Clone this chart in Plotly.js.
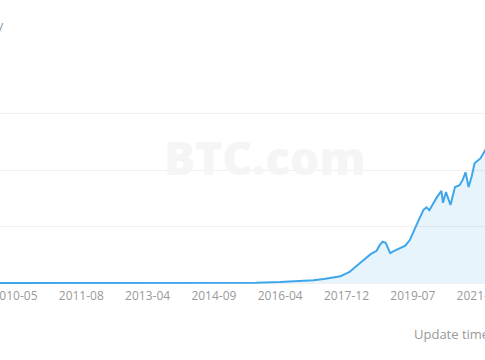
<!DOCTYPE html>
<html>
<head>
<meta charset="utf-8">
<script src="https://cdn.plot.ly/plotly-3.0.1.min.js"></script>
<style>html,body{margin:0;padding:0;background:#fff;}#chart{width:485px;height:360px;}</style>
</head>
<body>
<div id="chart"></div>
<script>
// Difficulty adjustment index (x) and network difficulty in T (y)
const adjIndex = [20, 60, 100, 130, 150, 162, 175, 190, 206, 218, 228, 235, 241, 246, 250, 252, 256, 259, 262, 266, 268, 270, 272, 274, 276, 278, 279, 281, 286, 289, 292, 294, 297, 301, 303, 305, 308, 310, 313, 314, 316, 319, 322, 325, 327, 329, 331, 333, 335, 337, 339, 342, 345];
const difficultyT = [0, 0.000001, 0.000003, 0.00005, 0.002, 0.027, 0.045, 0.06, 0.17, 0.3, 0.5, 0.7, 0.95, 1.2, 1.7, 1.95, 2.9, 3.5, 4.2, 5.1, 5.4, 5.7, 6.7, 7.3, 7.1, 6.0, 5.3, 5.6, 6.2, 6.6, 7.6, 8.9, 10.6, 12.9, 13.4, 12.9, 14.3, 15.2, 16.3, 14.2, 16.1, 13.8, 17.0, 17.3, 18.2, 19.6, 17.0, 18.8, 21.2, 21.6, 22.1, 23.5, 25.0];
const tickIndex = [30, 74, 118, 162, 206, 250, 294, 338];
const tickLabels = ['2010-05', '2011-08', '2013-04', '2014-09', '2016-04', '2017-12', '2019-07', '2021-06'];
const gridValues = [0, 10, 20, 30, 40];

const trace = {
  x: adjIndex, y: difficultyT, type: 'scatter', mode: 'lines',
  line: {color: '#3ea6ea', width: 2, shape: 'linear'},
  fill: 'tozeroy', fillcolor: 'rgba(62,166,234,0.12)',
  hoverinfo: 'skip'
};

const layout = {
  width: 485, height: 360,
  margin: {l: 0, r: 0, t: 57, b: 75, pad: 0},
  paper_bgcolor: '#ffffff', plot_bgcolor: '#ffffff',
  showlegend: false,
  font: {family: '"Open Sans", sans-serif', color: '#999999', size: 12},
  xaxis: {
    range: [20.05, 341.9], tickmode: 'array', tickvals: tickIndex, ticktext: tickLabels,
    showgrid: false, zeroline: false, showline: false, ticks: '', automargin: false,
    ticklabeloverflow: 'allow', ticklabelstandoff: 2,
    tickfont: {size: 12, color: '#999999'}
  },
  yaxis: {
    range: [-0.35, 40], tickmode: 'array', tickvals: gridValues, showticklabels: false,
    showgrid: true, gridcolor: '#f0f0f0', gridwidth: 1, zeroline: false, showline: false,
    ticks: '', automargin: false
  },
  annotations: [
    {text: 'BTC.com', xref: 'paper', yref: 'paper', x: 264/485, y: 0.561, xanchor: 'center', yanchor: 'middle',
     showarrow: false, font: {family: '"Open Sans", sans-serif', size: 46, color: '#f5f5f5', weight: 800}},
    {text: 'Difficulty', xref: 'paper', yref: 'paper', x: 6/485, y: 1.14, xanchor: 'right', yanchor: 'middle',
     showarrow: false, font: {size: 13, color: '#999999'}},
    {text: 'Update time', xref: 'paper', yref: 'paper', x: 412/485, y: -0.215, xanchor: 'left', yanchor: 'middle',
     showarrow: false, font: {size: 13, color: '#999999'}}
  ]
};

Plotly.newPlot('chart', [trace], layout, {displayModeBar: false, staticPlot: true});
</script>
</body>
</html>
